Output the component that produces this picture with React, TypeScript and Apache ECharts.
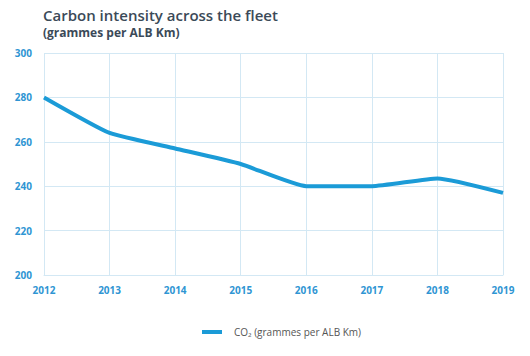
import React, { useEffect, useRef } from "react";
import * as echarts from "echarts";

const years = ["2012", "2013", "2014", "2015", "2016", "2017", "2018", "2019"];
const co2 = [280, 264, 257, 250, 240, 240, 243.5, 237];
const seriesName = "CO₂ (grammes per ALB Km)";

export default function App() {
  const ref = useRef<HTMLDivElement>(null);
  useEffect(() => {
    if (!ref.current) return;
    const chart = echarts.init(ref.current, null, { renderer: "svg" });
    const font = "'Open Sans', 'Noto Sans', sans-serif";
    chart.setOption({
      animation: false,
      title: {
        text: "Carbon intensity across the fleet",
        subtext: "(grammes per ALB Km)",
        left: 38,
        top: 2,
        itemGap: 4,
        textStyle: { fontFamily: font, fontSize: 15, fontWeight: 600, color: "#3b4a58" },
        subtextStyle: { fontFamily: font, fontSize: 12, fontWeight: 700, color: "#3b4a58" },
      },
      grid: { left: 44, right: 27, top: 53, bottom: 81 },
      xAxis: {
        type: "category",
        data: years,
        boundaryGap: false,
        axisLine: { lineStyle: { color: "#d3e8f4" } },
        axisTick: { show: false },
        axisLabel: { color: "#2f95d3", fontFamily: font, fontSize: 10, fontWeight: 700, margin: 10 },
        splitLine: { show: true, lineStyle: { color: "#d3e8f4" } },
      },
      yAxis: {
        type: "value",
        min: 200,
        max: 300,
        interval: 20,
        axisLine: { show: false },
        axisTick: { show: false },
        axisLabel: { color: "#2f95d3", fontFamily: font, fontSize: 10, fontWeight: 700, margin: 12 },
        splitLine: { lineStyle: { color: "#d3e8f4" } },
      },
      legend: {
        data: [{ name: seriesName, icon: "rect" }],
        left: 197,
        top: 322,
        itemWidth: 20,
        itemHeight: 4,
        textStyle: { fontFamily: font, fontSize: 10, color: "#555", padding: [0, 0, 0, 7] },
      },
      series: [
        {
          name: seriesName,
          type: "line",
          data: co2,
          smooth: 0.15,
          symbol: "none",
          lineStyle: { color: "#1b9bd7", width: 4 },
          itemStyle: { color: "#1b9bd7" },
        },
      ],
    });
    return () => chart.dispose();
  }, []);
  return <div ref={ref} style={{ width: 530, height: 356, position: "absolute", left: 0, top: 0 }} />;
}
